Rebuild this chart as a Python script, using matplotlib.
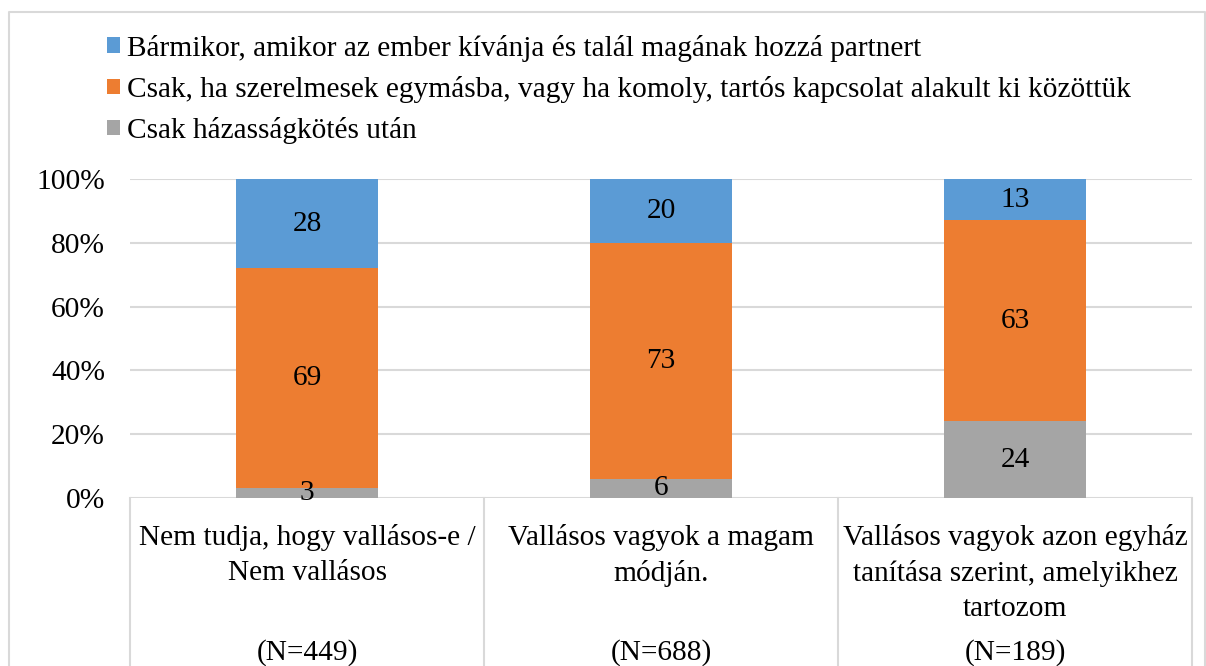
import numpy as np
import matplotlib.pyplot as plt
from matplotlib.patches import Patch
from matplotlib.lines import Line2D

plt.rcParams['font.family'] = ['Liberation Serif', 'DejaVu Serif']

categories = ['Nem tudja, hogy vallásos-e /\nNem vallásos',
              'Vallásos vagyok a magam\nmódján.',
              'Vallásos vagyok azon egyház\ntanítása szerint, amelyikhez\ntartozom']
n_labels = ['(N=449)', '(N=688)', '(N=189)']
series_names = ['Bármikor, amikor az ember kívánja és talál magának hozzá partnert',
                'Csak, ha szerelmesek egymásba, vagy ha komoly, tartós kapcsolat alakult ki közöttük',
                'Csak házasságkötés után']
barmikor = [28, 20, 13]
szerelmes = [69, 73, 63]
hazassag = [3, 6, 24]
colors = ['#5B9BD5', '#ED7D31', '#A5A5A5']

W, H = 1206, 666
fig = plt.figure(figsize=(W / 100, H / 100), dpi=100)

# plot area in pixels: x 130..1192, y 179..498
ax = fig.add_axes([130 / W, (H - 498) / H, (1192 - 130) / W, (498 - 179) / H])

x = np.arange(len(categories))
totals = np.array(barmikor) + np.array(szerelmes) + np.array(hazassag)
fs = 21.2

bottom = np.zeros(len(categories))
# stack from bottom: hazassag, szerelmes, barmikor
for vals, col in [(hazassag, colors[2]), (szerelmes, colors[1]), (barmikor, colors[0])]:
    share = np.array(vals) / totals * 100
    ax.bar(x, share, 0.4, bottom=bottom, color=col, zorder=3)
    for xi, b, s, v in zip(x, bottom, share, vals):
        ax.text(xi, b + s / 2, str(v), ha='center', va='center', fontsize=fs, zorder=4)
    bottom += share

ax.set_xlim(-0.5, 2.5)
ax.set_ylim(0, 100)
ax.set_yticks(range(0, 101, 20))
ax.set_yticklabels([f'{t}%' for t in range(0, 101, 20)], fontsize=fs)
ax.tick_params(axis='y', length=0, pad=18)
ax.set_xticks([])
for s in ax.spines.values():
    s.set_visible(False)
ax.grid(axis='y', color='#d9d9d9', linewidth=1.5, zorder=0)

# category table: vertical separators below the axis
trans = ax.get_xaxis_transform()
for xs in [-0.5, 0.5, 1.5, 2.5]:
    ax.add_line(Line2D([xs, xs], [0, -0.6], transform=trans, color='#d9d9d9',
                       linewidth=1.5, clip_on=False))
for xi, cat, n in zip(x, categories, n_labels):
    ax.text(xi, (498 - 524) / 319, cat, transform=trans, ha='center', va='top',
            fontsize=fs, linespacing=1.45)
    ax.text(xi, (498 - 653) / 319, n, transform=trans, ha='center', va='center',
            fontsize=fs)

# legend
handles = [Patch(facecolor=c) for c in colors]
fig.legend(handles, series_names, loc='upper left', bbox_to_anchor=(95 / W, 1 - 23 / H),
           frameon=False, fontsize=fs, handlelength=0.45, handleheight=0.45,
           handletextpad=0.25, labelspacing=0.48, borderaxespad=0)

# outer chart border
fig.add_artist(Line2D([9 / W, 9 / W, 1205 / W, 1205 / W], [0, 1 - 12 / H, 1 - 12 / H, 0],
                      transform=fig.transFigure, color='#d9d9d9', linewidth=1.5))

fig.savefig('out.png', dpi=100)
